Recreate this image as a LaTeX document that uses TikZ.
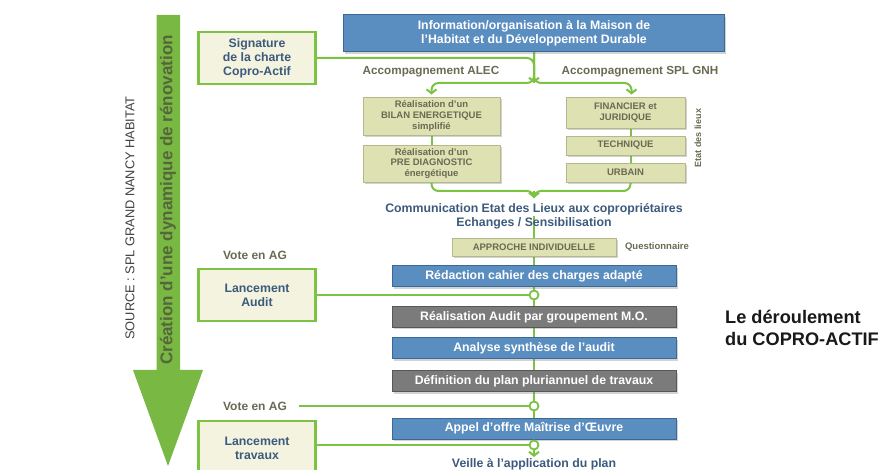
\documentclass[tikz,border=0pt]{standalone}
\usepackage{fontspec}
\setmainfont{Liberation Sans}
\usetikzlibrary{arrows.meta,shadows,backgrounds}
\definecolor{lgreen}{HTML}{7CC243}
\definecolor{agreen}{HTML}{78B843}
\definecolor{bluefill}{HTML}{5A8DC0}
\definecolor{blueline}{HTML}{3E6894}
\definecolor{grayfill}{HTML}{7B7B7B}
\definecolor{grayline}{HTML}{575757}
\definecolor{olivefill}{HTML}{DEE2B3}
\definecolor{oliveline}{HTML}{B5B88A}
\definecolor{creamfill}{HTML}{F3F3DF}
\definecolor{dblue}{HTML}{3C5A7C}
\definecolor{otext}{HTML}{6A6A52}
\definecolor{atext}{HTML}{55663A}
\tikzset{
  conn/.style={draw=lgreen, line width=2pt},
  tipped/.style={-{Straight Barb[length=4pt,width=10pt,line width=2pt]}},
  shad/.style={drop shadow={shadow xshift=1.5pt, shadow yshift=-2pt, opacity=.35}},
  bluebox/.style={draw=blueline, line width=1pt, fill=bluefill, text=white,
    font=\bfseries\fontsize{12.3}{14}\selectfont, align=center,
    minimum width=284pt, minimum height=21pt, inner sep=0pt, shad},
  graybox/.style={bluebox, draw=grayline, fill=grayfill},
  olivebox/.style={draw=oliveline, line width=.8pt, fill=olivefill, text=otext,
    font=\bfseries\fontsize{9.5}{10.6}\selectfont, align=center, inner sep=0pt, shad},
  creambox/.style={draw=lgreen, line width=2.8pt, fill=creamfill, text=dblue,
    font=\bfseries\fontsize{12.3}{14}\selectfont, align=center,
    minimum width=117.5pt, minimum height=52pt, inner sep=0pt},
  dot/.style={circle, draw=lgreen, line width=1.8pt, fill=white, minimum size=9pt, inner sep=0pt},
  otxt/.style={text=otext, font=\bfseries\fontsize{11.7}{14}\selectfont, inner sep=0pt},
  btxt/.style={text=dblue, font=\bfseries\fontsize{12.3}{14}\selectfont, align=center, inner sep=0pt},
}
\begin{document}
\begin{tikzpicture}[x=1pt,y=-1pt]
\path[use as bounding box, clip] (0,0) rectangle (884,470);
% big arrow
\fill[agreen] (156.5,15) -- (180,15) -- (180,370) -- (203,370) -- (168,466) -- (133,370) -- (156.5,370) -- cycle;
\node[rotate=90, text=atext, font=\bfseries\fontsize{17}{17}\selectfont, inner sep=0pt] (crea) at (168,200) {Création d’une dynamique de rénovation};
\node[rotate=90, text=black!75, font=\fontsize{12.8}{13}\selectfont, inner sep=0pt] (src) at (130,218) {SOURCE : SPL GRAND NANCY HABITAT};

% top
\node[bluebox, minimum width=381pt, minimum height=37pt] (info) at (534,33.5) {Information/organisation à la Maison de\\l’Habitat et du Développement Durable};
\node[creambox] (sig) at (257,58) {Signature\\de la charte\\Copro-Actif};
\node[otxt] (alec) at (431,72) {Accompagnement ALEC};
\node[otxt] (gnh) at (640,72) {Accompagnement SPL GNH};

\node[olivebox, minimum width=137pt, minimum height=38pt] (bilan) at (431.5,116) {Réalisation d’un\\BILAN ENERGETIQUE\\simplifié};
\node[olivebox, minimum width=137pt, minimum height=37pt] (pre) at (431.5,163.5) {Réalisation d’un\\PRE DIAGNOSTIC\\énergétique};
\node[olivebox, minimum width=119pt, minimum height=31pt] (fin) at (625.5,112.5) {FINANCIER et\\JURIDIQUE};
\node[olivebox, minimum width=119pt, minimum height=19pt] (tech) at (625.5,145.5) {TECHNIQUE};
\node[olivebox, minimum width=119pt, minimum height=19pt] (urb) at (625.5,172.5) {URBAIN};
\node[otxt, font=\bfseries\fontsize{9}{10}\selectfont, rotate=90] (edl) at (698,138) {Etat des lieux};

\node[btxt] (comm) at (534,216) {Communication Etat des Lieux aux copropriétaires\\Echanges / Sensibilisation};
\node[olivebox, minimum width=164pt, minimum height=18pt, font=\bfseries\fontsize{9.5}{10}\selectfont] (appr) at (534,247) {APPROCHE INDIVIDUELLE};
\node[otxt, font=\bfseries\fontsize{9.5}{10}\selectfont] (quest) at (657,247) {Questionnaire};

% main chain
\node[bluebox] (redac) at (534,276.5) {Rédaction cahier des charges adapté};
\node[dot] (c1) at (534,295) {};
\node[graybox] (reali) at (534,317) {Réalisation Audit par groupement M.O.};
\node[bluebox] (analyse) at (534,348.5) {Analyse synthèse de l’audit};
\node[graybox] (defin) at (534,381.5) {Définition du plan pluriannuel de travaux};
\node[dot] (c2) at (534,406) {};
\node[bluebox] (appel) at (534,428.5) {Appel d’offre Maîtrise d’Œuvre};
\node[dot] (c3) at (534,445) {};
\node[btxt, inner sep=1pt] (veille) at (534,464) {Veille à l’application du plan};

% left column
\node[otxt, font=\bfseries\fontsize{12}{14}\selectfont] (vote1) at (255,255) {Vote en AG};
\node[creambox] (audit) at (257,295) {Lancement\\Audit};
\node[otxt, font=\bfseries\fontsize{12}{14}\selectfont] (vote2) at (255,406) {Vote en AG};
\node[creambox, minimum height=54pt] (trav) at (257,448) {Lancement\\travaux};

% right text
\node[anchor=west, align=left, font=\bfseries\fontsize{18.2}{22}\selectfont, text=black!90, inner sep=0pt] (titre) at (725,328) {Le déroulement\\du COPRO-ACTIF};

\coordinate (j1) at (534,83);
\coordinate (j2a) at (534,191);
\coordinate (j2) at (534,198);

\begin{scope}[on background layer]
\draw[conn, rounded corners=7pt, tipped, shorten >=2pt] (info.south) -- (j1) -| (bilan.north);
\draw[conn, rounded corners=7pt, tipped, shorten >=2pt] (info.south) -- (j1) -| ([xshift=6pt]fin.north);
\draw[conn, rounded corners=7pt] (sig.east) -| (j1);
\draw[conn, tipped] (info.south) -- (j1);
\draw[conn] (bilan) -- (pre);
\draw[conn] ([xshift=5pt]fin.center) -- ([xshift=5pt]tech.center) -- ([xshift=5pt]urb.center);
\draw[conn, rounded corners=7pt] (pre.south) |- (j2a) -- (j2);
\draw[conn, rounded corners=7pt] ([xshift=5pt]urb.south) |- (j2a) -- (j2);
\draw[conn, tipped] (j2a) -- (j2);
\draw[conn] (comm.center) -- (appr) -- (redac) -- (c1) -- (reali) -- (analyse) -- (defin) -- (c2) -- (appel) -- (c3);
\draw[conn, tipped] (c3) -- (veille);
\draw[conn] (audit.east) -- (c1);
\draw[conn] ([xshift=12pt]vote2.east) -- (c2);
\draw[conn] (c3 -| trav.east) -- (c3);
\end{scope}
\end{tikzpicture}
\end{document}
